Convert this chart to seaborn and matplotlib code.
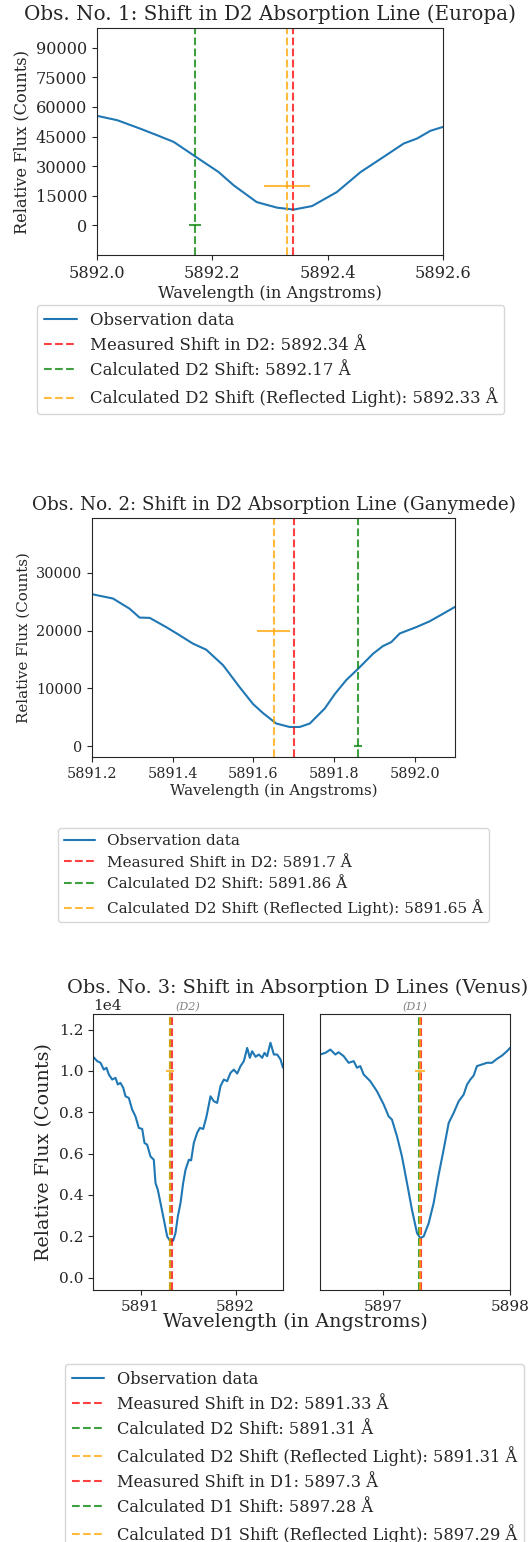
import numpy as np
import matplotlib
matplotlib.use("Agg")
import matplotlib.pyplot as plt
from matplotlib.ticker import FormatStrFormatter
import seaborn as sns

# ---- Obs 1 (Europa) ----
wl_europa = [5892.0, 5892.035, 5892.075, 5892.104, 5892.133, 5892.17, 5892.211, 5892.237,
             5892.277, 5892.312, 5892.341, 5892.373, 5892.416, 5892.457, 5892.497, 5892.532,
             5892.555, 5892.578, 5892.6]
flux_europa = [55500, 53300, 49000, 45700, 42300, 35000, 27000, 20300,
               11800, 9000, 8000, 9800, 16900, 27000, 34700, 41500,
               44000, 47900, 49900]
shifts_europa = {"measured": 5892.34, "calc": 5892.17, "refl": 5892.33}

# ---- Obs 2 (Ganymede) ----
wl_ganymede = [5891.2, 5891.252, 5891.293, 5891.318, 5891.343, 5891.384, 5891.417, 5891.45,
               5891.483, 5891.525, 5891.566, 5891.599, 5891.624, 5891.657, 5891.69, 5891.715,
               5891.74, 5891.777, 5891.802, 5891.83, 5891.86, 5891.897, 5891.921, 5891.942,
               5891.963, 5892.004, 5892.037, 5892.07, 5892.1]
flux_ganymede = [26300, 25550, 23800, 22250, 22200, 20600, 19200, 17750,
                 16700, 14000, 10200, 7300, 5700, 3900, 3300, 3300,
                 3900, 6500, 9000, 11400, 13400, 16000, 17300, 18000,
                 19500, 20600, 21600, 22900, 24100]
shifts_ganymede = {"measured": 5891.7, "calc": 5891.86, "refl": 5891.65}

# ---- Obs 3 (Venus), D2 and D1 ----
wl_venus_d2 = [5890.502, 5890.544, 5890.579, 5890.614, 5890.642, 5890.667, 5890.702, 5890.737,
               5890.761, 5890.789, 5890.818, 5890.842, 5890.877, 5890.912, 5890.947, 5890.982,
               5891.018, 5891.042, 5891.07, 5891.105, 5891.14, 5891.158, 5891.182, 5891.211,
               5891.246, 5891.281, 5891.309, 5891.344, 5891.368, 5891.393, 5891.421, 5891.449,
               5891.474, 5891.509, 5891.533, 5891.561, 5891.596, 5891.625, 5891.66, 5891.695,
               5891.737, 5891.772, 5891.807, 5891.842, 5891.877, 5891.912, 5891.947, 5891.982,
               5892.018, 5892.053, 5892.088, 5892.123, 5892.151, 5892.175, 5892.211, 5892.246,
               5892.281, 5892.305, 5892.333, 5892.368, 5892.404, 5892.439, 5892.474, 5892.5]
flux_venus_d2 = [10680, 10470, 10390, 10060, 10150, 9820, 9580, 9660,
                 9340, 9420, 9180, 8770, 8690, 8130, 7800, 7240,
                 7190, 6510, 6430, 5860, 5700, 4570, 4250, 3600,
                 2800, 1990, 1790, 1790, 2150, 2960, 3600, 4570,
                 5220, 5700, 5670, 6510, 7000, 7240, 7190, 7800,
                 8770, 8530, 8450, 9260, 9580, 9500, 9900, 10060,
                 9870, 10230, 10470, 11110, 10630, 10950, 10680, 10790,
                 10630, 10870, 10710, 11360, 10790, 10790, 10550, 10150]
wl_venus_d1 = [5896.5, 5896.542, 5896.582, 5896.621, 5896.647, 5896.687, 5896.726, 5896.766,
               5896.792, 5896.818, 5896.845, 5896.897, 5896.95, 5897.003, 5897.042, 5897.068,
               5897.108, 5897.147, 5897.187, 5897.226, 5897.266, 5897.292, 5897.318, 5897.358,
               5897.397, 5897.437, 5897.476, 5897.516, 5897.555, 5897.595, 5897.634, 5897.661,
               5897.687, 5897.713, 5897.739, 5897.779, 5897.818, 5897.858, 5897.897, 5897.937,
               5897.976, 5898.0]
flux_venus_d1 = [10790, 10870, 11030, 10790, 10900, 10710, 10390, 10470,
                 10150, 10230, 9820, 9500, 9010, 8370, 7800, 7640,
                 6830, 5860, 4570, 3280, 2150, 1910, 1990, 2630,
                 3600, 4980, 6190, 7480, 7960, 8530, 8850, 9340,
                 9580, 9770, 10230, 10310, 10390, 10390, 10580, 10740,
                 10950, 11110]
shifts_venus_d2 = {"measured": 5891.33, "calc": 5891.31, "refl": 5891.31}
shifts_venus_d1 = {"measured": 5897.3, "calc": 5897.28, "refl": 5897.29}

sns.set_style("ticks")
plt.rcParams.update({
    "font.family": ["DejaVu Serif"],
    "axes.linewidth": 0.8,
    "xtick.major.size": 3.5, "ytick.major.size": 3.5,
    "xtick.major.width": 0.8, "ytick.major.width": 0.8,
})

W, H = 529, 1542
fig = plt.figure(figsize=(W / 100, H / 100), dpi=100)


def rect(l, t, r, b):
    return [l / W, 1 - b / H, (r - l) / W, (b - t) / H]


def draw_shifts(ax, sh, line, err_y_refl, err_y_calc=None, xerr_refl=0.04, xerr_calc=0.01):
    ax.axvline(sh["measured"], color="red", ls="--", alpha=0.75, lw=1.5,
               label=f"Measured Shift in {line}: {sh['measured']} Å")
    ax.axvline(sh["calc"], color="green", ls="--", alpha=0.75, lw=1.5,
               label=f"Calculated {line} Shift: {sh['calc']} Å")
    ax.axvline(sh["refl"], color="orange", ls="--", alpha=0.75, lw=1.5,
               label=f"Calculated {line} Shift (Reflected Light): {sh['refl']} Å")
    if err_y_calc is not None:
        ax.errorbar(sh["calc"], err_y_calc, xerr=xerr_calc, fmt="none", ecolor="green", alpha=0.75)
    ax.errorbar(sh["refl"], err_y_refl, xerr=xerr_refl, fmt="none", ecolor="orange", alpha=0.75)


# ---------- panel 1 ----------
ax1 = fig.add_axes(rect(97, 28, 443, 255))
sns.lineplot(x=wl_europa, y=flux_europa, ax=ax1, color="#1f77b4", lw=1.5,
             label="Observation data", legend=False)
draw_shifts(ax1, shifts_europa, "D2", 20000, 0)
ax1.set_xlim(5892.0, 5892.6)
ax1.set_ylim(-15000, 100000)
ax1.set_yticks(np.arange(0, 90001, 15000))
ax1.set_xticks([5892.0, 5892.2, 5892.4, 5892.6])
ax1.xaxis.set_major_formatter(FormatStrFormatter("%.1f"))
ax1.tick_params(labelsize=11.6)
ax1.set_title("Obs. No. 1: Shift in D2 Absorption Line (Europa)", fontsize=14.3)
ax1.set_xlabel("Wavelength (in Angstroms)", fontsize=11.7, labelpad=2)
ax1.set_ylabel("Relative Flux (Counts)", fontsize=11.7)
ax1.legend(loc="upper left", bbox_to_anchor=(37 / W, 1 - 305 / H),
           bbox_transform=fig.transFigure, borderaxespad=0, fontsize=11.9)

# ---------- panel 2 ----------
ax2 = fig.add_axes(rect(92, 518, 455, 757))
sns.lineplot(x=wl_ganymede, y=flux_ganymede, ax=ax2, color="#1f77b4", lw=1.5,
             label="Observation data", legend=False)
draw_shifts(ax2, shifts_ganymede, "D2", 20000, 0)
ax2.set_xlim(5891.2, 5892.1)
ax2.set_ylim(-1900, 39500)
ax2.set_yticks([0, 10000, 20000, 30000])
ax2.set_xticks([5891.2, 5891.4, 5891.6, 5891.8, 5892.0])
ax2.xaxis.set_major_formatter(FormatStrFormatter("%.1f"))
ax2.tick_params(labelsize=10.4)
ax2.set_title("Obs. No. 2: Shift in D2 Absorption Line (Ganymede)", fontsize=13.2)
ax2.set_xlabel("Wavelength (in Angstroms)", fontsize=10.8, labelpad=2)
ax2.set_ylabel("Relative Flux (Counts)", fontsize=10.8)
ax2.legend(loc="upper left", bbox_to_anchor=(58 / W, 1 - 828 / H),
           bbox_transform=fig.transFigure, borderaxespad=0, fontsize=11.0)

# ---------- panel 3 ----------
ax3a = fig.add_axes(rect(93, 1014, 283, 1290))
ax3b = fig.add_axes(rect(320, 1014, 510, 1290), sharey=ax3a)
sns.lineplot(x=wl_venus_d2, y=flux_venus_d2, ax=ax3a, color="#1f77b4", lw=1.5,
             label="Observation data", legend=False)
draw_shifts(ax3a, shifts_venus_d2, "D2", 10000)
sns.lineplot(x=wl_venus_d1, y=flux_venus_d1, ax=ax3b, color="#1f77b4", lw=1.5, legend=False)
draw_shifts(ax3b, shifts_venus_d1, "D1", 10000)
ax3a.set_xlim(5890.5, 5892.5)
ax3b.set_xlim(5896.5, 5898.0)
ax3a.set_ylim(-600, 12750)
ax3a.set_xticks([5891, 5892])
ax3b.set_xticks([5897, 5898])
ax3a.xaxis.set_major_formatter(FormatStrFormatter("%d"))
ax3b.xaxis.set_major_formatter(FormatStrFormatter("%d"))
ax3a.ticklabel_format(axis="y", style="sci", scilimits=(0, 0))
ax3a.yaxis.get_offset_text().set_fontsize(11.1)
ax3a.tick_params(labelsize=11.1)
ax3b.tick_params(labelsize=11.1, left=False, labelleft=False)
ax3a.set_title("(D2)", fontsize=8, style="italic", color="gray", pad=3)
ax3b.set_title("(D1)", fontsize=8, style="italic", color="gray", pad=3)
ax3a.set_ylabel("Relative Flux (Counts)", fontsize=13.8)
fig.text(298 / W, 1 - 988 / H, "Obs. No. 3: Shift in Absorption D Lines (Venus)",
         ha="center", va="center", fontsize=13.9)
fig.text(295 / W, 1 - 1322 / H, "Wavelength (in Angstroms)", ha="center", va="center",
         fontsize=13.8)
h_a, l_a = ax3a.get_legend_handles_labels()
h_b, l_b = ax3b.get_legend_handles_labels()
ax3a.legend(h_a + h_b, l_a + l_b, loc="upper left", bbox_to_anchor=(65 / W, 1 - 1364 / H),
            bbox_transform=fig.transFigure, borderaxespad=0, fontsize=11.7)

fig.savefig("out.png", dpi=100)
